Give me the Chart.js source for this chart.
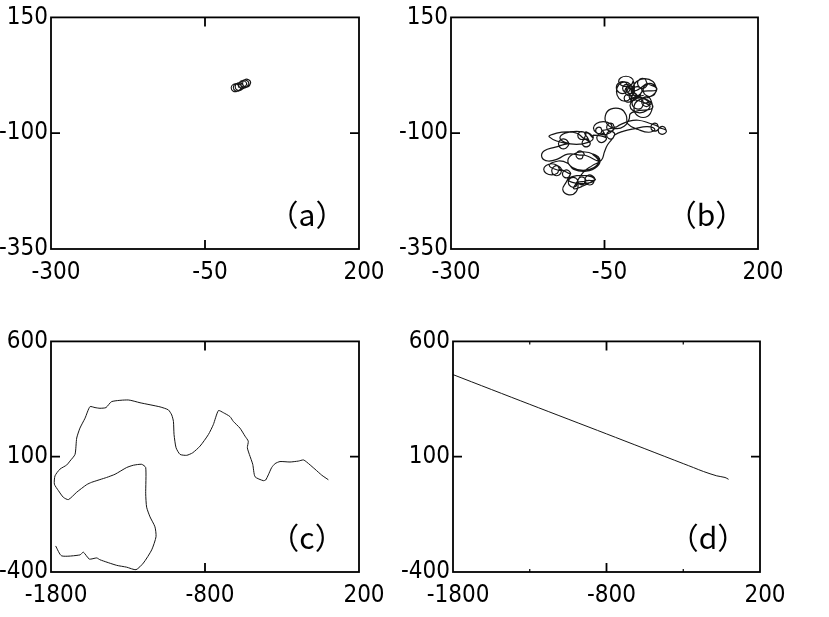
<!DOCTYPE html>
<html><head><meta charset="utf-8">
<script src="https://cdn.jsdelivr.net/npm/chart.js@4.4.1/dist/chart.umd.min.js"></script>
<style>
html,body{margin:0;padding:0;background:#fff;width:829px;height:617px;overflow:hidden}
canvas{position:absolute}
</style></head><body>
<canvas id="ca" width="414" height="300" style="left:0px;top:0px;width:414px;height:300px"></canvas>
<canvas id="cb" width="414" height="300" style="left:400px;top:0px;width:414px;height:300px"></canvas>
<canvas id="cc" width="414" height="300" style="left:0px;top:324px;width:414px;height:300px"></canvas>
<canvas id="cd" width="414" height="300" style="left:402px;top:324px;width:414px;height:300px"></canvas>
<script>
// ---- tick labels ----
const xTicksAB = ["-300", "-50", "200"];
const yTicksAB = ["-350", "-100", "150"];
const xTicksCD = ["-1800", "-800", "200"];
const yTicksCD = ["-400", "100", "600"];
const panelLabels = ["（a）", "（b）", "（c）", "（d）"];
const minorTicksD = [-1300, -300];

// ---- series (x, y) ----
const trajA = [
  [5.5,-2],[2.25,5.4],[-4.25,5.4],[-7.5,-2],[-4.25,-9.4],[2.25,-9.4],
  [9,-1],[5.75,6.4],[-0.75,6.4],[-4,-1],[-0.75,-8.4],[5.75,-8.4],
  [12,0.5],[8.75,7.9],[2.25,7.9],[-1,0.5],[2.25,-6.9],[8.75,-6.9],
  [17.5,5],[14.25,12.4],[7.75,12.4],[4.5,5],[7.75,-2.4],[14.25,-2.4],
  [21,6.5],[17.75,13.9],[11.25,13.9],[8,6.5],[11.25,-0.9],[17.75,-0.9],
  [24,8],[20.75,15.4],[14.25,15.4],[11,8],[14.25,0.6],[20.75,0.6],[24,8]
];
const trajB = [
  [50.5,-94],[47.25,-86.6],[40.75,-86.6],[37.5,-94],[40.75,-101.4],[47.25,-101.4],[50.5,-94],
  [38.5,-87],[35.25,-79.6],[28.75,-79.6],[25.5,-87],[28.75,-94.4],[35.25,-94.4],[38.5,-87],
  [22,-78],[5,-72],[-10,-74],[-25,-82],
  [-33.5,-87],[-36.75,-79.6],[-43.25,-79.6],[-46.5,-87],[-43.25,-94.4],[-36.75,-94.4],[-33.5,-87],
  [-36,-89],[-40.8,-79.2],[-52,-75],[-63.2,-79.2],[-68,-89],[-63.2,-98.8],[-52,-103],[-40.8,-98.8],[-36,-89],
  [-53.6,-94],[-56.3,-88],[-61.7,-88],[-64.4,-94],[-61.7,-100],[-56.3,-100],[-53.6,-94],
  [-47.4,-110],[-51.2,-101.3],[-58.8,-101.3],[-62.6,-110],[-58.8,-118.7],[-51.2,-118.7],[-47.4,-110],
  [-68,-104],
  [-68.6,-110],[-76.7,-100.2],[-95.6,-96],[-114.5,-100.2],[-122.6,-110],[-114.5,-119.8],[-95.6,-124],[-76.7,-119.8],[-68.6,-110],
  [-80,-97],
  [-80.5,-105],[-83.75,-97.6],[-90.25,-97.6],[-93.5,-105],[-90.25,-112.4],[-83.75,-112.4],[-80.5,-105],
  [-73.5,-121],[-76.75,-113.6],[-83.25,-113.6],[-86.5,-121],[-83.25,-128.4],[-76.75,-128.4],[-73.5,-121],
  [-85,-110],[-95,-100],[-110,-97],[-128,-100],[-140,-108],
  [-109,-123],[-113,-113.7],[-121,-113.7],[-125,-123],[-121,-132.3],[-113,-132.3],[-109,-123],
  [-130,-130],[-148,-138],[-152,-152],[-142,-160],[-125,-155],[-110,-145],
  [-83.5,-147],[-86.75,-139.6],[-93.25,-139.6],[-96.5,-147],[-93.25,-154.4],[-86.75,-154.4],[-83.5,-147],
  [-59.7,-160],[-67.2,-146],[-84.7,-140],[-102.2,-146],[-109.7,-160],[-102.2,-174],[-84.7,-180],[-67.2,-174],[-59.7,-160],
  [-70,-145],[-58,-155],[-62,-172],[-80,-182],[-100,-178],[-110,-165],[-125,-160],[-140,-170],
  [-120,-181],[-124,-171.7],[-132,-171.7],[-136,-181],[-132,-190.3],[-124,-190.3],[-120,-181],
  [-123,-178],[-126.9,-169.6],[-136,-166],[-145.1,-169.6],[-149,-178],[-145.1,-186.4],[-136,-190],[-126.9,-186.4],[-123,-178],
  [-105.5,-188],[-108.75,-180.6],[-115.25,-180.6],[-118.5,-188],[-115.25,-195.4],[-108.75,-195.4],[-105.5,-188],
  [-112,-205],[-118,-222],[-108,-233],[-96,-226],
  [-93,-206],[-97,-196.7],[-105,-196.7],[-109,-206],[-105,-215.3],[-97,-215.3],[-93,-206],
  [-80.5,-203],[-83.75,-195.6],[-90.25,-195.6],[-93.5,-203],[-90.25,-210.4],[-83.75,-210.4],[-80.5,-203],
  [-66,-201],[-70,-191.7],[-78,-191.7],[-82,-201],[-78,-210.3],[-70,-210.3],[-66,-201],
  [-65,-200],[-71.6,-193.7],[-87,-191],[-102.4,-193.7],[-109,-200],[-102.4,-206.3],[-87,-209],[-71.6,-206.3],[-65,-200],
  [-85,-214],[-100,-220],[-96,-208],
  [-85,-185],[-70,-170],[-55,-158],[-50,-140],[-45,-125],
  [-33.5,-104],[-36.75,-96.6],[-43.25,-96.6],[-46.5,-104],[-43.25,-111.4],[-36.75,-111.4],[-33.5,-104],
  [-20,-96],[0,-90],[20,-86],[32,-92],[22,-98],[5,-92],
  [-12,-80],[-14.6,-62],[-23,-48],[-40,-48],[-48.6,-62],[-46,-80],[-32,-90],[-18,-85],[-10,-70],
  [-8,-58],[2,-52],
  [27.9,-45.9],[20.4,-28.6],[5.4,-28.6],[-2.1,-45.9],[5.4,-63.2],[20.4,-63.2],[27.9,-45.9],
  [26.3,-31.6],[22.3,-22.3],[14.3,-22.3],[10.3,-31.6],[14.3,-40.9],[22.3,-40.9],[26.3,-31.6],
  [14.8,-35],[9.8,-24],[-0.2,-24],[-5.2,-35],[-0.2,-46],[9.8,-46],[14.8,-35],
  [23.5,-40],[18.7,-28.8],[7.5,-24],[-3.7,-28.8],[-8.5,-40],[-3.7,-51.2],[7.5,-56],[18.7,-51.2],[23.5,-40],
  [-5,-24.5],[-8.25,-17.1],[-14.75,-17.1],[-18,-24.5],[-14.75,-31.9],[-8.25,-31.9],[-5,-24.5],
  [3.1,-21],[-0.15,-13.6],[-6.65,-13.6],[-9.9,-21],[-6.65,-28.4],[-0.15,-28.4],[3.1,-21],
  [11.1,-10.3],[7.1,-1],[-0.9,-1],[-4.9,-10.3],[-0.9,-19.6],[7.1,-19.6],[11.1,-10.3],
  [34.6,-6.7],[29.2,5.4],[18.4,5.4],[13,-6.7],[18.4,-18.8],[29.2,-18.8],[34.6,-6.7],
  [34.6,-3],[28.9,11.7],[15.6,18],[2.3,11.7],[-3.4,-3],[2.3,-17.7],[15.6,-24],[28.9,-17.7],[34.6,-3],
  [19.8,7.6],[15.8,16.9],[7.8,16.9],[3.8,7.6],[7.8,-1.7],[15.8,-1.7],[19.8,7.6],
  [-0.8,-8.8],[-4.8,0.5],[-12.8,0.5],[-16.8,-8.8],[-12.8,-18.1],[-4.8,-18.1],[-0.8,-8.8],
  [-3.5,-10],[-7.5,4.7],[-17,11],[-26.5,4.7],[-30.5,-10],[-26.5,-24.7],[-17,-31],[-7.5,-24.7],[-3.5,-10],
  [-10.7,-1.7],[-15.7,9.3],[-25.7,9.3],[-30.7,-1.7],[-25.7,-12.7],[-15.7,-12.7],[-10.7,-1.7],
  [-3,12],[-6.6,19.7],[-15,23],[-23.4,19.7],[-27,12],[-23.4,4.3],[-15,1],[-6.6,4.3],[-3,12],
  [-1.5,-6],[-4.75,1.4],[-11.25,1.4],[-14.5,-6],[-11.25,-13.4],[-4.75,-13.4],[-1.5,-6],
  [-7.5,-3],[-10.75,4.4],[-17.25,4.4],[-20.5,-3],[-17.25,-10.4],[-10.75,-10.4],[-7.5,-3],
  [-5,-15],[5,-20],[14,-18]
];
const trajC = [
  [-1770,-287],[-1731,-330],[-1612,-326],[-1590,-314],[-1551,-344],[-1503,-339],[-1482,-347],
  [-1374,-371],[-1309,-379],[-1248,-390],[-1200,-361],[-1146,-304],[-1118,-247],[-1125,-204],
  [-1157,-161],[-1179,-119],[-1185,-61],[-1185,53],[-1211,67],[-1265,63],[-1309,53],[-1384,24],
  [-1439,10],[-1536,-11],[-1568,-21],[-1633,-54],[-1687,-86],[-1720,-76],[-1752,-47],[-1778,-19],
  [-1774,17],[-1742,46],[-1698,64],[-1677,81],[-1644,110],[-1633,181],[-1612,224],[-1579,267],
  [-1547,317],[-1514,313],[-1482,310],[-1443,313],[-1406,339],[-1298,346],[-1222,334],[-1092,316],
  [-1038,303],[-1016,281],[-1005,253],[-1001,196],[-988,139],[-962,110],[-919,106],[-880,117],
  [-832,146],[-778,196],[-746,239],[-713,300],[-681,291],[-638,274],[-616,253],[-573,224],
  [-540,189],[-519,167],[-525,139],[-512,110],[-490,67],[-475,13],[-421,-4],[-406,-1],[-389,21],
  [-367,53],[-345,70],[-313,79],[-248,77],[-194,81],[-161,86],[-140,77],[-86,46],[-42,20],[1,0]
];
const trajD = [
  [-1800,456],[-1300,327],[-800,199],[-300,70],[-234,53],[-169,36],[-82,17],[-28,10],[-5,2]
];

const FONT = '"Liberation Sans Narrow", "DejaVu Sans Condensed", sans-serif';

const framePlugin = {
  id: 'frame',
  afterDraw(chart, args, opts) {
    const { ctx, chartArea: a, scales: { x, y } } = chart;
    ctx.save();
    ctx.strokeStyle = '#000';
    ctx.lineWidth = 1.8;
    ctx.strokeRect(a.left, a.top, a.right - a.left, a.bottom - a.top);
    ctx.beginPath();
    const TL = 9;
    x.ticks.forEach((t, i) => {
      if (i === 0 || i === x.ticks.length - 1) return;
      const px = x.getPixelForValue(t.value);
      ctx.moveTo(px, a.bottom); ctx.lineTo(px, a.bottom - TL);
      ctx.moveTo(px, a.top); ctx.lineTo(px, a.top + TL);
    });
    y.ticks.forEach((t, i) => {
      if (i === 0 || i === y.ticks.length - 1) return;
      const py = y.getPixelForValue(t.value);
      ctx.moveTo(a.left, py); ctx.lineTo(a.left + TL, py);
      ctx.moveTo(a.right, py); ctx.lineTo(a.right - TL, py);
    });
    ctx.stroke();
    if (opts.minorX && opts.minorX.length) {
      ctx.beginPath();
      ctx.lineWidth = 1.2;
      opts.minorX.forEach(v => {
        const px = x.getPixelForValue(v);
        ctx.moveTo(px, a.bottom); ctx.lineTo(px, a.bottom - 3);
        ctx.moveTo(px, a.top); ctx.lineTo(px, a.top + 3);
      });
      ctx.stroke();
    }
    if (opts.label) {
      ctx.fillStyle = '#000';
      ctx.font = '30px "Noto Sans CJK JP", sans-serif';
      ctx.textAlign = 'center';
      ctx.textBaseline = 'middle';
      ctx.fillText(opts.label, a.right - 52, a.bottom - 34);
    }
    ctx.restore();
  }
};

function makeChart(id, path, xr, yr, xLabels, yLabels, label, tension, lw, minorX, geom) {
  const W = 414, H = 300;
  return new Chart(document.getElementById(id), {
    type: 'scatter',
    data: {
      datasets: [{
        data: path.map(p => ({ x: p[0], y: p[1] })),
        showLine: true,
        borderColor: '#151515',
        borderWidth: lw,
        pointRadius: 0,
        tension: tension,
        fill: false
      }]
    },
    options: {
      responsive: false,
      animation: false,
      devicePixelRatio: 1,
      layout: { padding: { left: 0, top: geom.top, right: W - geom.right, bottom: 0 } },
      plugins: {
        legend: { display: false },
        tooltip: { enabled: false },
        frame: { label: label, minorX: minorX }
      },
      scales: {
        x: {
          type: 'linear', min: xr[0], max: xr[1],
          grid: { display: false, drawTicks: false },
          border: { display: false },
          afterFit: s => { s.height = H - geom.bottom; },
          ticks: {
            stepSize: xr[2], autoSkip: false, maxRotation: 0, padding: 9, labelOffset: 5,
            color: '#000', font: { family: FONT, size: 24 },
            callback: (v, i) => xLabels[i]
          }
        },
        y: {
          type: 'linear', min: yr[0], max: yr[1],
          grid: { display: false, drawTicks: false },
          border: { display: false },
          afterFit: s => { s.width = geom.left; },
          ticks: {
            stepSize: yr[2], autoSkip: false, padding: 3,
            color: '#000', font: { family: FONT, size: 24 },
            callback: (v, i) => yLabels[i]
          }
        }
      }
    },
    plugins: [framePlugin]
  });
}

makeChart('ca', trajA, [-300, 200, 250], [-350, 150, 250], xTicksAB, yTicksAB, panelLabels[0], 0.45, 1.1, [], { left: 51, right: 359, top: 15, bottom: 249 });
makeChart('cb', trajB, [-300, 200, 250], [-350, 150, 250], xTicksAB, yTicksAB, panelLabels[1], 0.45, 1.2, [], { left: 51, right: 358, top: 15, bottom: 249 });
makeChart('cc', trajC, [-1800, 200, 1000], [-400, 600, 500], xTicksCD, yTicksCD, panelLabels[2], 0.2, 1, [], { left: 51, right: 359, top: 15, bottom: 248 });
makeChart('cd', trajD, [-1800, 200, 1000], [-400, 600, 500], xTicksCD, yTicksCD, panelLabels[3], 0.3, 1, minorTicksD, { left: 51, right: 358, top: 15, bottom: 248 });
</script>
</body></html>
